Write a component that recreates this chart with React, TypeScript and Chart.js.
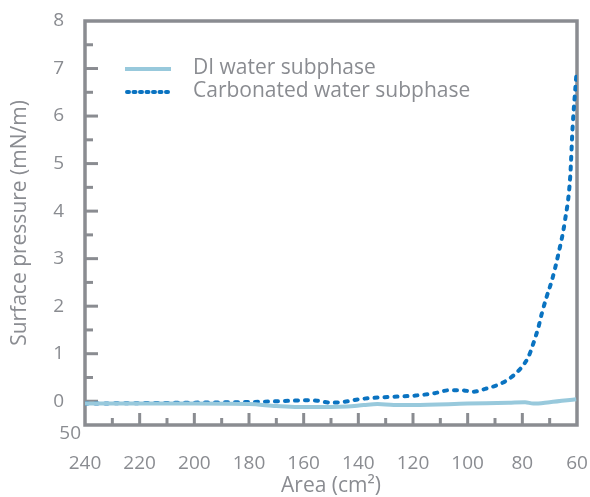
import React, { useEffect, useRef } from "react";
import { Chart, registerables } from "chart.js";

Chart.register(...registerables);

const diX = [240, 200, 180, 170, 162, 150, 144, 138, 133, 127, 120, 100, 85, 79, 76, 70, 60.3];
const diY = [-0.05, -0.05, -0.06, -0.1, -0.12, -0.12, -0.11, -0.08, -0.06, -0.08, -0.08, -0.05, -0.03, -0.02, -0.05, -0.02, 0.04];

const carbX = [240, 220, 200, 185, 175, 165, 160, 155, 150, 145, 140, 132, 125, 119, 112, 107, 102, 98, 93.6, 87.5, 83.3, 80.2, 77.8, 76, 74.1, 72.9, 71.2, 69.2, 66.8, 64.4, 62.5, 61.6, 60.2];
const carbY = [-0.05, -0.04, -0.03, -0.02, -0.01, 0.01, 0.02, 0.01, -0.03, -0.01, 0.04, 0.08, 0.1, 0.12, 0.17, 0.23, 0.23, 0.2, 0.26, 0.38, 0.54, 0.72, 0.93, 1.21, 1.56, 1.84, 2.18, 2.54, 3.1, 3.8, 4.71, 5.77, 6.89];

const seriesNames = ["DI water subphase", "Carbonated water subphase"];
const xTitle = "Area (cm²)";
const yTitle = "Surface pressure (mN/m)";
const bottomLabel = "50";

const GRAY = "#8a8c91";
const DI_COLOR = "#98c9dc";
const CARB_COLOR = "#0a73c1";
const FONT = "'Open Sans', sans-serif";

const decor = {
  id: "decor",
  beforeDatasetsDraw(chart: any) {
    const { ctx, chartArea } = chart;
    const xs = chart.scales.x;
    const ys = chart.scales.y;
    ctx.save();
    ctx.strokeStyle = GRAY;
    ctx.lineWidth = 3;
    ctx.lineCap = "butt";
    for (let v = -0.5; v <= 8.001; v += 0.5) {
      if (Math.abs(v + 0.5) < 1e-6 || Math.abs(v - 8) < 1e-6) continue;
      const len = Math.abs(v - Math.round(v)) < 1e-6 ? 13 : 8;
      const y = ys.getPixelForValue(v);
      ctx.beginPath();
      ctx.moveTo(chartArea.left, y);
      ctx.lineTo(chartArea.left + len, y);
      ctx.stroke();
    }
    for (let v = 70; v <= 230; v += 10) {
      const len = v % 20 === 0 ? 12 : 7;
      const x = xs.getPixelForValue(v);
      ctx.beginPath();
      ctx.moveTo(x, chartArea.bottom);
      ctx.lineTo(x, chartArea.bottom - len);
      ctx.stroke();
    }
    ctx.lineWidth = 3.5;
    ctx.strokeRect(chartArea.left, chartArea.top, chartArea.right - chartArea.left, chartArea.bottom - chartArea.top);
    ctx.restore();
  },
  afterDraw(chart: any) {
    const { ctx, chartArea } = chart;
    ctx.save();
    ctx.fillStyle = GRAY;
    ctx.font = `19px ${FONT}`;
    ctx.textAlign = "right";
    ctx.textBaseline = "middle";
    ctx.fillText(bottomLabel, chartArea.left - 4, chartArea.bottom + 9);

    // legend
    const lx0 = 125, lx1 = 171, tx = 193;
    const rows = [69, 92];
    ctx.lineWidth = 4;
    ctx.strokeStyle = DI_COLOR;
    ctx.beginPath();
    ctx.moveTo(lx0, rows[0]);
    ctx.lineTo(lx1, rows[0]);
    ctx.stroke();
    ctx.strokeStyle = CARB_COLOR;
    ctx.setLineDash([2, 4.5]);
    ctx.lineCap = "round";
    ctx.beginPath();
    ctx.moveTo(lx0 + 2, rows[1]);
    ctx.lineTo(lx1 - 2, rows[1]);
    ctx.stroke();
    ctx.setLineDash([]);
    ctx.textAlign = "left";
    ctx.fillStyle = GRAY;
    ctx.font = `21px ${FONT}`;
    ctx.fillText(seriesNames[0], tx, rows[0] - 1);
    ctx.fillText(seriesNames[1], tx, rows[1] - 1);
    ctx.restore();
  },
};

export default function App() {
  const ref = useRef<HTMLCanvasElement>(null);
  useEffect(() => {
    if (!ref.current) return;
    const chart = new Chart(ref.current, {
      type: "line",
      data: {
        datasets: [
          {
            label: seriesNames[0],
            data: diX.map((x, i) => ({ x, y: diY[i] })),
            borderColor: DI_COLOR,
            borderWidth: 4,
            pointRadius: 0,
            cubicInterpolationMode: "monotone",
            fill: false,
          },
          {
            label: seriesNames[1],
            data: carbX.map((x, i) => ({ x, y: carbY[i] })),
            borderColor: CARB_COLOR,
            borderWidth: 4,
            borderDash: [3, 7],
            borderCapStyle: "round",
            pointRadius: 0,
            cubicInterpolationMode: "monotone",
            fill: false,
          },
        ],
      },
      options: {
        animation: false,
        responsive: false,
        maintainAspectRatio: false,
        layout: { padding: { top: 21, right: 13, left: 0, bottom: 0 } },
        plugins: { legend: { display: false }, tooltip: { enabled: false } },
        scales: {
          x: {
            type: "linear",
            reverse: true,
            min: 60,
            max: 240,
            grid: { display: false },
            border: { display: false },
            ticks: { stepSize: 20, color: GRAY, font: { family: FONT, size: 19 }, padding: 19, maxRotation: 0 },
            title: { display: true, text: xTitle, color: GRAY, font: { family: FONT, size: 21, lineHeight: 1 }, padding: 0 },
            afterFit(scale: any) {
              scale.height = 72;
              scale.paddingLeft = 0;
              scale.paddingRight = 0;
            },
          },
          y: {
            type: "linear",
            min: -0.5,
            max: 8,
            grid: { display: false },
            border: { display: false },
            ticks: {
              stepSize: 1,
              color: GRAY,
              font: { family: FONT, size: 19 },
              padding: 13,
              callback: (v: any) => (Math.abs(v - Math.round(v)) < 1e-6 ? String(v) : ""),
            },
            title: { display: true, text: yTitle, color: GRAY, font: { family: FONT, size: 21, lineHeight: 1 }, padding: { top: 9.5, bottom: 0 } },
            afterFit(scale: any) {
              scale.width = 85;
              scale.paddingTop = 0;
              scale.paddingBottom = 0;
            },
          },
        },
      },
      plugins: [decor],
    } as any);
    return () => chart.destroy();
  }, []);
  return (
    <div style={{ position: "absolute", left: 0, top: 0, width: 590, height: 497, background: "#fff" }}>
      <canvas ref={ref} width={590} height={497} style={{ display: "block", width: 590, height: 497 }} />
    </div>
  );
}
